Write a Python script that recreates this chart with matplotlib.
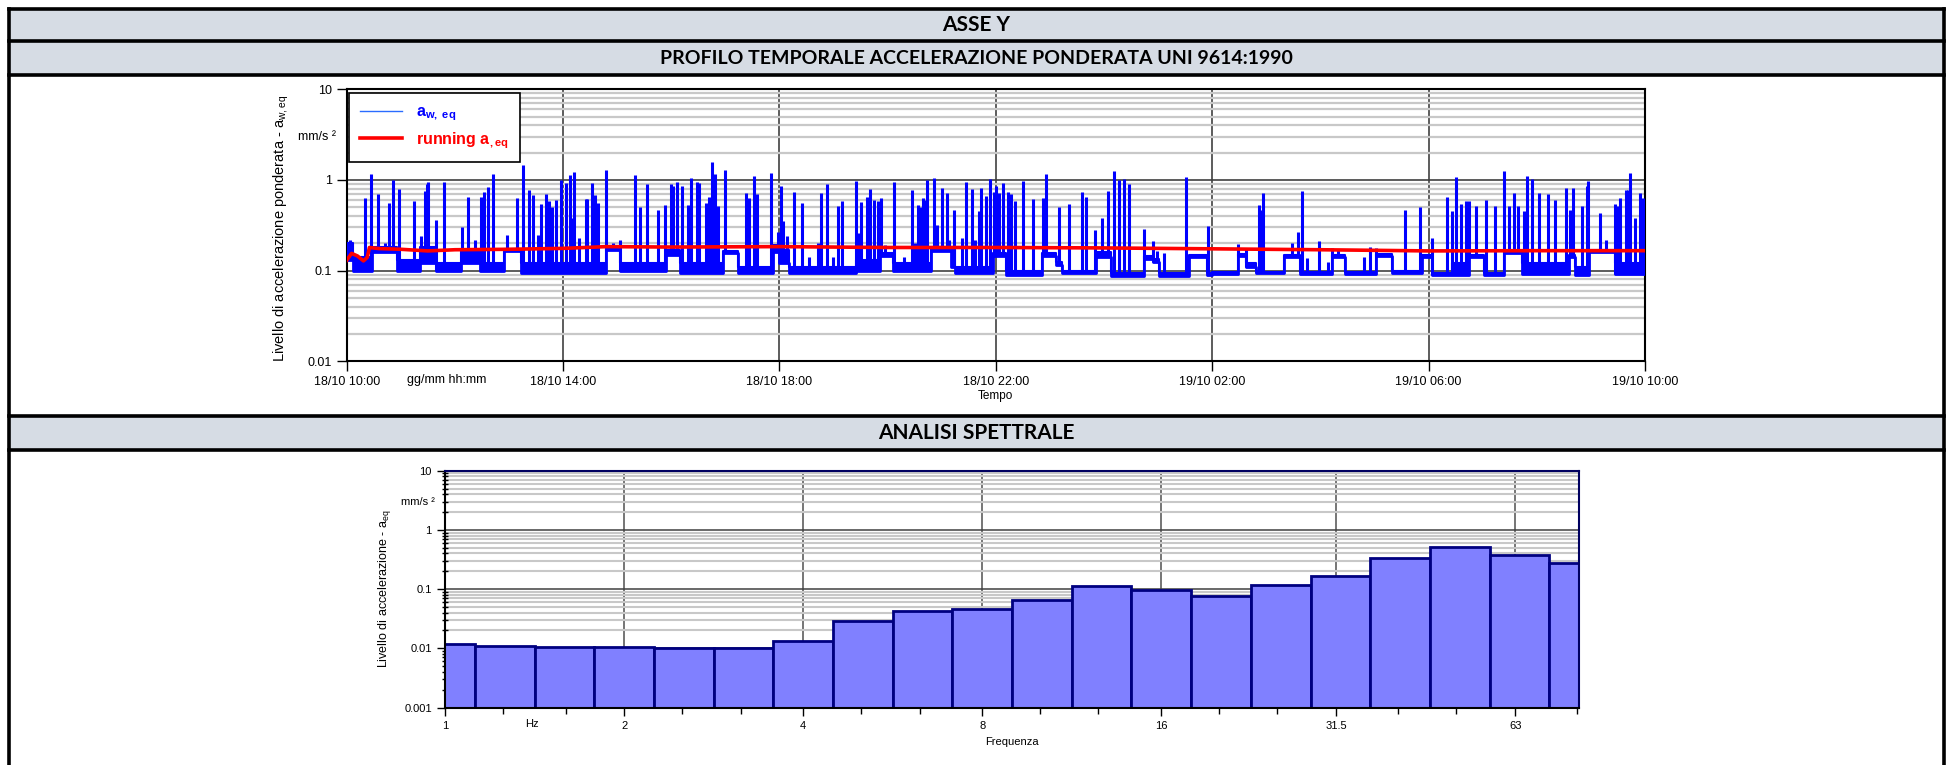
import matplotlib
matplotlib.use("Agg")
import matplotlib.pyplot as plt
import matplotlib.ticker as ticker
import matplotlib.transforms as transforms
from matplotlib.lines import Line2D
from matplotlib.patches import Rectangle
import numpy as np

plt.rcParams["font.family"] = ["Liberation Sans", "DejaVu Sans"]
plt.rcParams["mathtext.fontset"] = "custom"
plt.rcParams["mathtext.rm"] = "Liberation Sans"
plt.rcParams["mathtext.bf"] = "Liberation Sans:bold"
plt.rcParams["mathtext.it"] = "Liberation Sans:italic"

# ---- time profile (hours from 18/10 10:00) ----
tick_h = [0, 4, 8, 12, 16, 20, 24]
tick_labels = ["18/10 10:00", "18/10 14:00", "18/10 18:00", "18/10 22:00",
               "19/10 02:00", "19/10 06:00", "19/10 10:00"]

# baseline segments of a_w,eq: start hour, lower and upper level (mm/s2)
seg_h = [0.00, 0.12, 0.46, 0.93, 1.35, 1.66, 2.12, 2.46, 2.90, 3.23, 4.79, 5.05,
         5.91, 6.16, 6.96, 7.23, 7.88,
         8.00, 8.18, 9.41, 9.85, 10.09, 10.80, 11.17, 11.24, 11.94, 12.19, 12.86,
         13.11, 13.23, 13.85, 14.13, 14.74, 14.90, 15.02, 15.57, 15.90,
         16.00, 16.47, 16.62, 16.80, 17.32, 17.63, 18.22, 18.46, 19.02, 19.33,
         19.88, 20.06, 20.43, 20.74, 21.02, 21.39, 21.73, 22.59, 22.71, 22.96, 23.45]
seg_lo = [0.13, 0.10, 0.16, 0.10, 0.12, 0.10, 0.12, 0.10, 0.165, 0.095, 0.17, 0.10,
          0.15, 0.095, 0.155, 0.094, 0.16,
          0.12, 0.095, 0.10, 0.145, 0.10, 0.165, 0.11, 0.095, 0.145, 0.09, 0.145,
          0.115, 0.095, 0.14, 0.087, 0.135, 0.125, 0.088, 0.14, 0.09,
          0.092, 0.145, 0.11, 0.093, 0.14, 0.092, 0.14, 0.092, 0.145, 0.094,
          0.142, 0.089, 0.09, 0.142, 0.089, 0.158, 0.092, 0.14, 0.09, 0.16, 0.092]
seg_hi = [0.20, 0.14, 0.18, 0.13, 0.18, 0.12, 0.17, 0.12, 0.175, 0.12, 0.185, 0.12,
          0.17, 0.12, 0.165, 0.11, 0.19,
          0.17, 0.11, 0.13, 0.155, 0.12, 0.175, 0.17, 0.11, 0.155, 0.10, 0.155,
          0.125, 0.10, 0.16, 0.095, 0.145, 0.135, 0.095, 0.15, 0.095,
          0.096, 0.152, 0.12, 0.097, 0.147, 0.096, 0.147, 0.096, 0.152, 0.098,
          0.148, 0.094, 0.12, 0.148, 0.094, 0.166, 0.12, 0.147, 0.11, 0.168, 0.12]

# peaks of a_w,eq
spike_h = [0.06, 0.34, 0.44, 0.57, 0.71, 0.78, 0.86, 0.97, 1.25, 1.37, 1.44, 1.48, 1.51,
           1.66, 1.79, 2.14, 2.25, 2.38, 2.49, 2.53, 2.62, 2.71, 2.97, 3.15, 3.26, 3.37,
           3.45, 3.54, 3.60, 3.68, 3.74, 3.79, 3.87, 3.97, 4.05, 4.13, 4.19, 4.21, 4.30,
           4.42, 4.45, 4.54, 4.59, 4.65, 4.80, 4.93, 5.05, 5.33, 5.42, 5.56, 5.76, 5.88,
           6.00, 6.03, 6.10, 6.19, 6.31, 6.36, 6.48, 6.51, 6.64, 6.69, 6.76, 6.81, 6.87,
           7.00, 7.39, 7.43, 7.52, 7.59, 7.85, 7.97,
           8.02, 8.06, 8.14, 8.27, 8.41, 8.54, 8.71, 8.76, 8.88, 8.99, 9.08, 9.15, 9.41,
           9.46, 9.51, 9.61, 9.68, 9.75, 9.82, 9.87, 9.95, 10.11, 10.30, 10.45, 10.50,
           10.57, 10.60, 10.65, 10.67, 10.73, 10.86, 10.92, 11.00, 11.10, 11.14, 11.23,
           11.38, 11.45, 11.56, 11.61, 11.69, 11.73, 11.81, 11.90, 11.96, 12.00, 12.06,
           12.13, 12.22, 12.28, 12.36, 12.51, 12.68, 12.88, 12.93, 13.16, 13.36, 13.60,
           13.67, 13.83, 13.96, 14.08, 14.18, 14.27, 14.37, 14.46, 14.74, 14.90, 14.98,
           15.11, 15.52, 15.92,
           16.48, 16.63, 16.87, 16.91, 16.94, 17.48, 17.58, 17.66, 17.76, 17.97, 18.14,
           18.22, 18.32, 18.81, 18.92, 19.02, 19.56, 19.84, 20.06, 20.34, 20.43, 20.51,
           20.59, 20.70, 20.74, 20.87, 21.07, 21.22, 21.40, 21.48, 21.57, 21.65, 21.76,
           21.81, 21.92, 22.04, 22.20, 22.34, 22.54, 22.61, 22.67, 22.83, 22.93, 22.95,
           23.17, 23.28, 23.45, 23.50, 23.54, 23.64, 23.68, 23.73, 23.81, 23.91, 23.97]
spike_v = [0.22, 0.64, 1.15, 0.70, 0.20, 0.56, 1.0, 0.79, 0.58, 0.24, 0.76, 0.90, 0.94,
           0.36, 0.94, 0.30, 0.65, 0.22, 0.65, 0.73, 0.84, 1.15, 0.25, 0.64, 1.46, 0.78,
           0.68, 0.25, 0.55, 0.70, 0.58, 0.50, 0.60, 1.0, 0.92, 1.14, 0.38, 1.22, 0.23,
           0.61, 0.62, 0.92, 0.68, 0.56, 1.29, 0.20, 0.22, 1.14, 0.50, 0.90, 0.47, 0.53,
           0.90, 0.86, 0.96, 0.86, 0.53, 1.04, 0.94, 0.92, 0.56, 0.65, 1.59, 1.16, 0.51,
           1.29, 0.72, 0.63, 1.11, 0.70, 1.20, 0.27,
           0.86, 0.35, 0.24, 0.73, 0.56, 0.14, 0.20, 0.71, 0.90, 0.14, 0.52, 0.58, 0.98,
           0.26, 0.57, 0.65, 0.79, 0.60, 0.58, 0.63, 0.19, 0.94, 0.14, 0.78, 0.20,
           0.53, 0.50, 0.63, 0.60, 1.0, 1.04, 0.32, 0.81, 0.71, 0.22, 0.47,
           0.23, 0.94, 0.79, 0.22, 0.45, 0.82, 0.67, 1.02, 0.74, 0.86, 0.72,
           0.92, 0.73, 0.70, 0.59, 0.975, 0.61, 0.64, 1.16, 0.50, 0.55, 0.74,
           0.65, 0.28, 0.38, 0.76, 1.27, 1.0, 1.02, 0.90, 0.29, 0.21, 0.165,
           0.158, 1.09, 0.31,
           0.195, 0.175, 0.53, 0.47, 0.71, 0.20, 0.27, 0.76, 0.137, 0.21, 0.126,
           0.176, 0.173, 0.14, 0.18, 0.176, 0.47, 0.50, 0.23, 0.65, 0.455, 1.09,
           0.55, 0.58, 0.59, 0.51, 0.60, 0.52, 1.26, 0.51, 0.72, 0.51, 0.46,
           1.11, 1.03, 0.71, 0.70, 0.60, 0.81, 0.47, 0.81, 0.52, 0.86, 0.97,
           0.43, 0.22, 0.55, 0.52, 0.63, 0.78, 0.78, 1.18, 0.38, 0.71, 0.63]

# running a_eq
run_h = [0, 0.09, 0.2, 0.31, 0.38, 0.42, 0.6, 1.0, 1.5, 2.0, 3.0, 4.0, 4.8, 6.0,
         8.0, 10.0, 12.0, 14.0, 16.0, 18.0, 20.0, 22.0, 24.0]
run_v = [0.13, 0.155, 0.145, 0.128, 0.14, 0.18, 0.175, 0.172, 0.165, 0.17, 0.172,
         0.176, 0.184, 0.182, 0.184, 0.18, 0.18, 0.178, 0.174, 0.17, 0.165, 0.166, 0.166]

# ---- spectrum (third octave bands) ----
band_hz = [1, 1.25, 1.6, 2, 2.5, 3.15, 4, 5, 6.3, 8, 10, 12.5, 16, 20, 25, 31.5,
           40, 50, 63, 80]
band_aeq = [0.0115, 0.0110, 0.0105, 0.0104, 0.0100, 0.0101, 0.0130, 0.0287, 0.043,
            0.046, 0.066, 0.114, 0.095, 0.075, 0.115, 0.169, 0.337, 0.52, 0.38, 0.28]
freq_ticks = [1, 2, 4, 8, 16, 31.5, 63]
freq_labels = ["1", "2", "4", "8", "16", "31.5", "63"]

W, H = 1953, 765
fig = plt.figure(figsize=(W / 100, H / 100), dpi=100)

def figRect(x0, y0, x1, y1):
    return [x0 / W, 1 - y1 / H, (x1 - x0) / W, (y1 - y0) / H]

# header bands and frame
for y0, y1 in [(9, 41), (41, 75), (416, 450)]:
    fig.add_artist(Rectangle(figRect(9, y0, 1944, y1)[:2], (1944 - 9) / W, (y1 - y0) / H,
                             transform=fig.transFigure, facecolor="#d6dce4", edgecolor="none"))
for y in [9, 41, 75, 416, 450]:
    fig.add_artist(Line2D([9 / W, 1944 / W], [1 - y / H, 1 - y / H], transform=fig.transFigure,
                          color="black", lw=2.6))
for x in [9, 1944]:
    fig.add_artist(Line2D([x / W, x / W], [0, 1 - 9 / H], transform=fig.transFigure,
                          color="black", lw=2.6))
headers = [(25, "ASSE Y", 15), (58, "PROFILO TEMPORALE ACCELERAZIONE PONDERATA UNI 9614:1990", 14),
           (433, "ANALISI SPETTRALE", 15)]
for y, text, size in headers:
    fig.text(976 / W, 1 - y / H, text, ha="center", va="center", fontsize=size,
             fontweight="bold", family=["Lato", "DejaVu Sans"])

# ---- top chart ----
ax1 = fig.add_axes(figRect(346.7, 89.3, 1645, 361.3))
ax1.set_yscale("log")
edges = np.r_[seg_h, 24]
lo = np.r_[seg_lo, seg_lo[-1]]
hi = np.r_[seg_hi, seg_hi[-1]]
ax1.fill_between(edges, lo, hi, step="post", color="blue", lw=0, zorder=3)
ax1.step(edges, lo, where="post", color="blue", lw=2, zorder=3)
ax1.step(edges, hi, where="post", color="blue", lw=1.5, zorder=3)
base = np.array(seg_lo)[np.searchsorted(seg_h, spike_h, side="right") - 1]
ax1.vlines(spike_h, base, spike_v, color="blue", lw=2.2, zorder=3)
ax1.plot(run_h, run_v, color="red", lw=2.6, zorder=4)

ax1.set_xlim(0, 24)
ax1.set_ylim(0.01, 10)
ax1.set_xticks(tick_h, tick_labels)
ax1.set_yticks([0.01, 0.1, 1, 10], ["0.01", "0.1", "1", "10"])
ax1.yaxis.set_minor_locator(ticker.LogLocator(base=10, subs=range(2, 10)))
ax1.yaxis.set_minor_formatter(ticker.NullFormatter())
ax1.set_axisbelow(True)
ax1.grid(which="minor", axis="y", color="#c8c8c8", lw=1.6)
ax1.grid(which="major", axis="y", color="#404040", lw=1.2)
ax1.grid(which="major", axis="x", color="#303030", lw=1.1)
ax1.tick_params(which="major", direction="out", length=7, width=1, labelsize=9)
ax1.tick_params(which="minor", length=0)
for spine in ax1.spines.values():
    spine.set_linewidth(1.5)
ax1.set_xlabel("Tempo", fontsize=8.5)
ax1.xaxis.set_label_coords(0.5, -0.105)
ax1.set_ylabel("Livello di accelerazione ponderata - $\\mathrm{a}_{\\mathrm{w,eq}}$", fontsize=10.5)
ax1.yaxis.set_label_coords(-0.043, 0.49)
mixed1 = transforms.blended_transform_factory(ax1.transAxes, ax1.transData)
ax1.text(-0.008, 3.0, "mm/s ²", transform=mixed1, ha="right", va="center", fontsize=9)
ax1.text(1.84, -0.069, "gg/mm hh:mm", transform=transforms.blended_transform_factory(
    ax1.transData, ax1.transAxes), ha="center", va="center", fontsize=9)

handles = [Line2D([], [], color="#2a6cff", lw=1), Line2D([], [], color="red", lw=2.6)]
leg = ax1.legend(handles, ["$\\mathbf{a}_{\\mathbf{w,\\ eq}}$", "running $\\mathbf{a}_{\\mathbf{,eq}}$"],
                 loc="upper left", bbox_to_anchor=(0.0018, 0.986), borderaxespad=0,
                 fancybox=False, edgecolor="black", framealpha=1,
                 prop={"weight": "bold", "size": 11.5}, handlelength=2.6, labelspacing=0.45,
                 borderpad=0.7, handletextpad=0.9, labelcolor=["blue", "red"])
leg.get_frame().set_linewidth(1.2)
leg.set_zorder(10)

# ---- bottom chart ----
ax2 = fig.add_axes(figRect(445, 470.7, 1579, 707.5))
ax2.set_xscale("log", base=2)
ax2.set_yscale("log")
centers = 2.0 ** (np.round(3 * np.log2(band_hz)) / 3)
left = centers * 2 ** (-1 / 6)
width = centers * 2 ** (1 / 6) - left
ax2.bar(left, band_aeq, width=width, align="edge", bottom=1e-4, color="#8080ff",
        edgecolor="#000080", lw=2, zorder=3)
ax2.set_xlim(1, 80.6)
ax2.set_ylim(0.001, 10)
ax2.set_xticks(freq_ticks, freq_labels)
ax2.xaxis.set_minor_locator(ticker.FixedLocator(band_hz))
ax2.xaxis.set_minor_formatter(ticker.NullFormatter())
ax2.set_yticks([0.001, 0.01, 0.1, 1, 10], ["0.001", "0.01", "0.1", "1", "10"])
ax2.yaxis.set_minor_locator(ticker.LogLocator(base=10, subs=range(2, 10)))
ax2.yaxis.set_minor_formatter(ticker.NullFormatter())
ax2.set_axisbelow(True)
ax2.grid(which="minor", axis="y", color="#c8c8c8", lw=1.5)
ax2.grid(which="major", axis="y", color="#404040", lw=1.1)
ax2.grid(which="major", axis="x", color="#505050", lw=1.1)
ax2.tick_params(which="major", direction="out", length=6, width=1, labelsize=8)
ax2.tick_params(which="minor", axis="x", direction="out", length=4, width=1)
ax2.tick_params(which="minor", axis="y", direction="inout", length=4, width=1)
for name, spine in ax2.spines.items():
    spine.set_linewidth(1.5)
    spine.set_zorder(5)
    spine.set_color("#000060" if name in ("top", "right") else "black")
ax2.set_xlabel("Frequenza", fontsize=8)
ax2.xaxis.set_label_coords(0.5, -0.125)
ax2.set_ylabel("Livello di accelerazione - $\\mathrm{a}_{\\mathrm{eq}}$", fontsize=9)
ax2.yaxis.set_label_coords(-0.046, 0.5)
mixed2 = transforms.blended_transform_factory(ax2.transAxes, ax2.transData)
ax2.text(-0.009, 3.0, "mm/s ²", transform=mixed2, ha="right", va="center", fontsize=8)
ax2.text(1.40, -0.07, "Hz", transform=transforms.blended_transform_factory(
    ax2.transData, ax2.transAxes), ha="center", va="center", fontsize=8)

fig.savefig("out.png", dpi=100)
